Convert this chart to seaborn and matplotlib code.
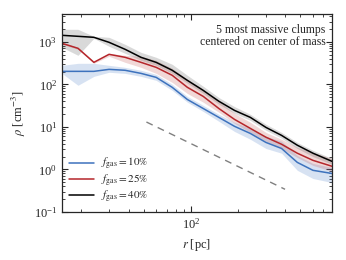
import matplotlib
matplotlib.use("Agg")
import matplotlib.pyplot as plt
import numpy as np
import pandas as pd
import seaborn as sns

# radial bins [pc]
r_pc = [15, 19, 24, 30, 38, 48, 60, 76, 95, 120, 151, 190, 240, 302, 380, 479, 603, 800]

# median density profiles [cm^-3]
rho_10 = [202, 202, 202, 225, 214, 181, 146, 85, 44, 27, 16.7, 10.3, 7.0, 4.3, 3.1, 1.46, 0.95, 0.8]
rho_25 = [922, 703, 329, 508, 432, 329, 251, 163, 85, 52, 27, 15, 9.2, 5.7, 3.9, 2.4, 1.63, 1.18]
rho_40 = [1422, 1347, 1276, 973, 666, 432, 329, 214, 124, 72, 40, 24.4, 16.7, 9.7, 6.3, 3.7, 2.4, 1.54]

# scatter bands (low, high)
lo_10 = [181, 95, 154, 192, 181, 154, 124, 72, 38, 23, 13.5, 7.8, 5.1, 3.1, 2.4, 0.95, 0.61, 0.49]
hi_10 = [280, 312, 312, 280, 251, 214, 172, 100, 52, 32, 19.7, 12.8, 9.2, 6.0, 4.6, 2.13, 1.38, 1.11]
lo_25 = [873, 666, 312, 456, 329, 251, 181, 111, 61, 38, 22, 12.1, 7.4, 4.6, 3.1, 1.9, 1.24, 0.9]
hi_25 = [973, 743, 348, 536, 481, 456, 367, 238, 131, 76, 40, 20.8, 12.8, 7.4, 5.1, 3.3, 2.5, 1.8]
lo_40 = [743, 481, 1208, 784, 536, 367, 280, 181, 106, 61, 34, 20.8, 14.2, 8.3, 5.4, 3.1, 2.0, 1.31]
hi_40 = [1968, 1968, 1347, 1276, 873, 566, 432, 296, 163, 90, 49, 30, 19.7, 11.5, 7.4, 4.3, 2.8, 1.8]

# reference power-law guide
guide_r = [52, 400]
guide_rho = [13, 0.34]

labels = [r"$f_{\rm gas} = 10\%$", r"$f_{\rm gas} = 25\%$", r"$f_{\rm gas} = 40\%$"]
colors = ["#3d72bd", "#b5262b", "black"]
band_colors = ["#4a7fc8", "#c0504d", "#555555"]

sns.set_style("ticks")
plt.rcParams["font.family"] = ["Liberation Serif", "DejaVu Serif"]
plt.rcParams["mathtext.fontset"] = "stix"
plt.rcParams["font.size"] = 8.5
plt.rcParams["xtick.direction"] = "in"
plt.rcParams["ytick.direction"] = "in"

df = pd.concat([
    pd.DataFrame({"r": r_pc, "rho": rho, "label": lab})
    for rho, lab in zip([rho_10, rho_25, rho_40], labels)
])

fig = plt.figure(figsize=(3.46, 2.60), dpi=100)
ax = fig.add_axes([0.179, 0.185, 0.781, 0.761])

for lo, hi, c in zip([lo_10, lo_25, lo_40], [hi_10, hi_25, hi_40], band_colors):
    ax.fill_between(r_pc, lo, hi, color=c, alpha=0.22, lw=0)

sns.lineplot(data=df, x="r", y="rho", hue="label", palette=dict(zip(labels, colors)),
             estimator=None, sort=False, lw=1.1, ax=ax)

ax.plot(guide_r, guide_rho, ls=(0, (5, 4)), color="gray", lw=1.0)

ax.set(xscale="log", yscale="log")
ax.set_xlim(15, 800)
ax.set_ylim(0.1, 4500)
ax.set_xlabel(r"$r$ [pc]", fontsize=9)
ax.set_ylabel(r"$\rho$ [cm$^{-3}$]", fontsize=9)
ax.tick_params(which="both", top=True, right=True, labelsize=9)
ax.tick_params(which="major", length=4, width=0.8)
ax.tick_params(which="minor", length=2, width=0.6)
for s in ax.spines.values():
    s.set_linewidth(0.9)

ax.text(0.975, 0.95, "5 most massive clumps\ncentered on center of mass",
        transform=ax.transAxes, ha="right", va="top", fontsize=8.5, linespacing=1.0)

leg = ax.legend(loc="lower left", frameon=False, fontsize=8, handlelength=2.2,
                borderaxespad=0.25, labelspacing=0.0, handletextpad=0.7)
for line in leg.get_lines():
    line.set_linewidth(1.1)

fig.savefig("out.png", dpi=100)
